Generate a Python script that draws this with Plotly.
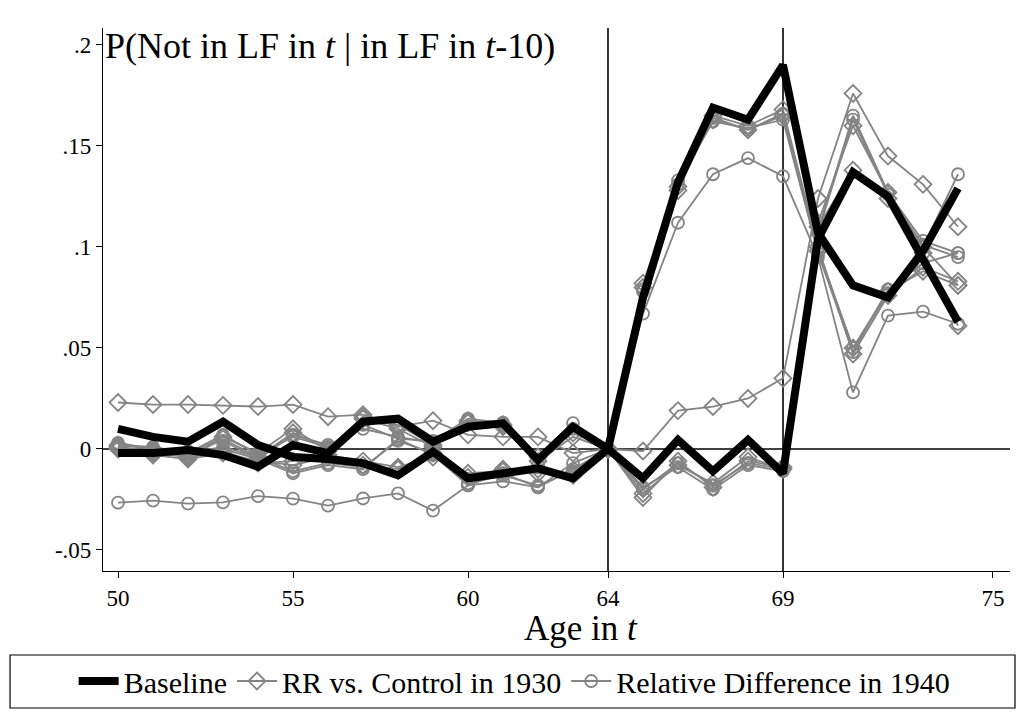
import plotly.graph_objects as go

ages = list(range(50, 75))

# Baseline series (two specifications)
base_late = [0.010, 0.006, 0.0036, 0.0135, 0.002, -0.004, -0.005, -0.007, -0.013, -0.0013,
             -0.0145, -0.012, -0.0096, -0.0145, 0.0, -0.0145, 0.0045, -0.011, 0.0045, -0.012,
             0.104, 0.137, 0.125, 0.094, 0.063]
base_early = [-0.002, -0.002, -0.0005, -0.003, -0.0088, 0.002, -0.002, 0.0135, 0.015, 0.0036,
              0.011, 0.0127, -0.0054, 0.011, 0.0, 0.075, 0.132, 0.169, 0.163, 0.190,
              0.107, 0.081, 0.075, 0.098, 0.129]

# RR vs. Control in 1930 (diamonds)
rr_early_1 = [0.001, -0.001, -0.004, 0.005, -0.004, 0.008, 0.000, 0.016, 0.012, 0.002,
              0.013, 0.011, -0.004, 0.008, 0.0, 0.082, 0.130, 0.163, 0.158, 0.165,
              0.098, 0.050, 0.078, 0.088, 0.081]
rr_early_2 = [0.002, 0.000, -0.003, 0.006, -0.002, 0.010, -0.001, 0.015, 0.010, 0.001,
              0.014, 0.012, -0.006, 0.006, 0.0, 0.080, 0.128, 0.165, 0.160, 0.168,
              0.100, 0.047, 0.076, 0.090, 0.083]
rr_late_out = [0.023, 0.022, 0.022, 0.0216, 0.021, 0.022, 0.016, 0.017, 0.011, 0.014,
               0.007, 0.006, 0.006, -0.002, 0.0, -0.001, 0.019, 0.021, 0.025, 0.035,
               0.124, 0.176, 0.145, 0.131, 0.110]
rr_late_1 = [0.000, -0.003, -0.005, -0.002, -0.006, -0.008, -0.004, -0.008, -0.010, -0.002,
             -0.014, -0.010, -0.012, -0.012, 0.0, -0.024, -0.006, -0.019, -0.006, -0.009,
             0.112, 0.160, 0.127, 0.100, 0.081]
rr_late_2 = [0.001, -0.002, -0.004, -0.001, -0.007, -0.006, -0.003, -0.006, -0.009, -0.004,
             -0.012, -0.011, -0.010, -0.013, 0.0, -0.022, -0.008, -0.017, -0.004, -0.010,
             0.110, 0.138, 0.124, 0.097, 0.061]

# Relative Difference in 1940 (circles)
rd_early_out = [-0.0266, -0.0256, -0.027, -0.0264, -0.0233, -0.0246, -0.028, -0.0245, -0.022, -0.0305,
                -0.018, -0.016, -0.019, -0.007, 0.0, 0.067, 0.112, 0.136, 0.144, 0.135,
                0.095, 0.028, 0.066, 0.068, 0.062]
rd_early_1 = [0.002, 0.001, -0.002, 0.007, -0.003, 0.006, 0.001, 0.012, 0.005, 0.004,
              0.015, 0.013, -0.008, 0.0128, 0.0, 0.078, 0.133, 0.162, 0.159, 0.163,
              0.097, 0.048, 0.079, 0.092, 0.097]
rd_early_2 = [0.003, 0.000, -0.001, 0.004, -0.005, 0.007, 0.002, 0.010, 0.006, 0.003,
              0.014, 0.012, -0.007, 0.010, 0.0, 0.079, 0.131, 0.164, 0.158, 0.166,
              0.099, 0.050, 0.077, 0.100, 0.136]
rd_late_1 = [0.001, -0.002, -0.003, 0.000, -0.005, -0.012, -0.008, -0.010, 0.005, -0.003,
             -0.018, -0.012, -0.019, -0.010, 0.0, -0.020, -0.007, -0.018, -0.007, -0.010,
             0.108, 0.165, 0.127, 0.103, 0.097]
rd_late_2 = [0.000, -0.001, -0.002, 0.001, -0.004, -0.011, -0.007, -0.009, 0.004, -0.002,
             -0.017, -0.013, -0.018, -0.011, 0.0, -0.019, -0.009, -0.020, -0.008, -0.011,
             0.107, 0.163, 0.126, 0.101, 0.095]

x_ticks = [50, 55, 60, 64, 69, 75]
y_ticks = [-0.05, 0, 0.05, 0.1, 0.15, 0.2]
y_ticktext = ["-.05", "0", ".05", ".1", ".15", ".2"]
cutoffs = [64, 69]

GRAY = "#848484"
FONT = "Liberation Serif, Times New Roman, serif"

fig = go.Figure()

def gray_trace(y, symbol, name, show):
    fig.add_trace(go.Scatter(
        x=ages, y=y, mode="lines+markers", name=name, showlegend=show,
        line=dict(color=GRAY, width=1.8),
        marker=dict(symbol=symbol, size=13 if "diamond" in symbol else 12,
                    color=GRAY, line=dict(color=GRAY, width=1.8)),
        legendrank=2 if "diamond" in symbol else 3,
    ))

rr_name = "RR vs. Control in 1930"
rd_name = "Relative Difference in 1940"
gray_trace(rr_early_1, "diamond-open", rr_name, True)
for s in [rr_early_2, rr_late_out, rr_late_1, rr_late_2]:
    gray_trace(s, "diamond-open", rr_name, False)
gray_trace(rd_early_out, "circle-open", rd_name, True)
for s in [rd_early_1, rd_early_2, rd_late_1, rd_late_2]:
    gray_trace(s, "circle-open", rd_name, False)

for i, s in enumerate([base_early, base_late]):
    fig.add_trace(go.Scatter(
        x=ages, y=s, mode="lines", name="Baseline", showlegend=(i == 0),
        line=dict(color="black", width=8), legendrank=1,
    ))

# reference lines
fig.add_hline(y=0, line=dict(color="black", width=1.6), layer="below")
for c in cutoffs:
    fig.add_vline(x=c, line=dict(color="black", width=1.6), layer="below")

# legend frame
fig.add_shape(type="rect", xref="paper", yref="paper",
              x0=-0.1025, x1=1.0055, y0=-0.2523, y1=-0.1547,
              line=dict(color="black", width=1.2), fillcolor="rgba(0,0,0,0)")

fig.add_annotation(
    xref="paper", yref="paper", x=0.0, y=1.0, xanchor="left", yanchor="top", yshift=4,
    text="P(Not in LF in <i>t</i> | in LF in <i>t</i>-10)", showarrow=False,
    font=dict(family=FONT, size=36, color="black"),
)
fig.add_annotation(
    xref="paper", yref="paper", x=0.527, y=-0.105, xanchor="center", yanchor="middle",
    text="Age in <i>t</i>", showarrow=False,
    font=dict(family=FONT, size=35, color="black"),
)

fig.update_layout(
    width=1010, height=701,
    margin=dict(l=95, r=8, t=20, b=138),
    paper_bgcolor="white", plot_bgcolor="white",
    font=dict(family=FONT, color="black"),
    xaxis=dict(range=[49.571, 75.486], tickvals=x_ticks, ticktext=[str(v) for v in x_ticks],
               showgrid=False, zeroline=False, showline=True, linecolor="black", linewidth=1.2,
               ticks="outside", ticklen=6, tickcolor="black",
               tickfont=dict(family=FONT, size=23)),
    yaxis=dict(range=[-0.0604, 0.2084], tickvals=y_ticks, ticktext=y_ticktext,
               showgrid=False, zeroline=False, showline=True, linecolor="black", linewidth=1.2,
               ticks="outside", ticklen=6, tickcolor="black",
               tickfont=dict(family=FONT, size=23)),
    legend=dict(orientation="h", xref="container", yref="container", x=0.065, y=0.077,
                xanchor="left", yanchor="top", borderwidth=0, bgcolor="rgba(0,0,0,0)",
                font=dict(family=FONT, size=30), itemwidth=40, tracegroupgap=0),
    showlegend=True,
)

fig.write_html("out.html")
